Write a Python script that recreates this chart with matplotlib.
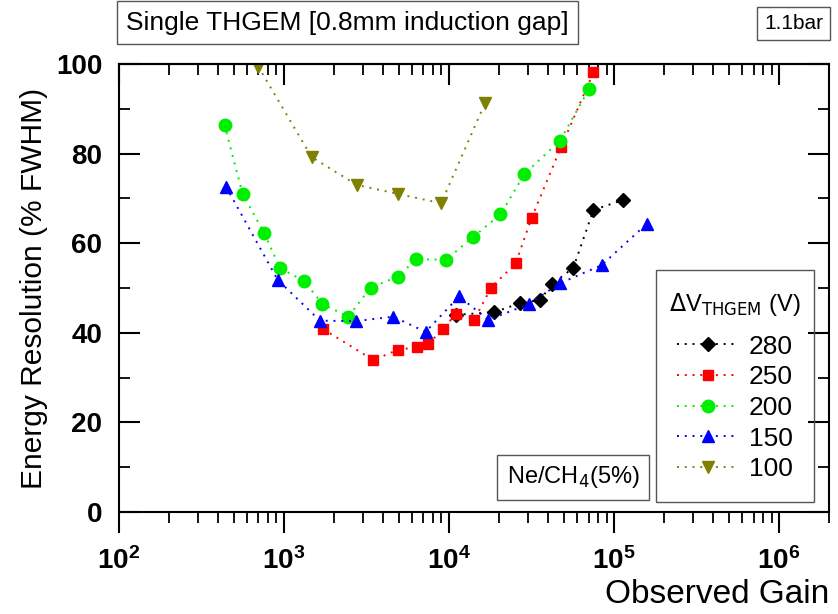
import matplotlib
matplotlib.use("Agg")
import matplotlib.pyplot as plt
from matplotlib.patches import Rectangle
from matplotlib.ticker import LogLocator, MultipleLocator, NullFormatter

# gain (x) and energy resolution in % FWHM (y)
gain_280 = [11000, 18800, 26900, 35600, 41900, 56600, 75000, 112700]
res_280 = [44.0, 44.6, 46.6, 47.3, 50.8, 54.5, 67.4, 69.6]

gain_250 = [1730, 3480, 4890, 6370, 7490, 9150, 11000, 14200, 18000, 25350,
            31600, 47800, 75000]
res_250 = [40.8, 33.9, 36.2, 36.8, 37.5, 40.8, 44.2, 42.9, 50.1, 55.5,
           65.6, 81.5, 98.1]

gain_200 = [436, 561, 757, 946, 1320, 1710, 2450, 3350, 4890, 6310, 9600,
            13900, 20500, 28600, 47100, 70500]
res_200 = [86.4, 71.0, 62.3, 54.4, 51.6, 46.4, 43.6, 50.1, 52.5, 56.4, 56.3,
           61.3, 66.4, 75.4, 82.9, 94.4]

gain_150 = [445, 916, 1650, 2730, 4590, 7210, 11500, 17300, 30500, 46700,
            84100, 157800]
res_150 = [72.6, 51.8, 42.7, 42.6, 43.6, 40.2, 48.1, 42.9, 46.4, 51.0,
           55.1, 64.3]

gain_100 = [698, 1470, 2760, 4890, 8950, 16500]
res_100 = [99.4, 79.2, 73.0, 71.0, 68.9, 91.2]

labels = ["280", "250", "200", "150", "100"]

series = [
    (gain_280, res_280, "black", "D", 7),
    (gain_250, res_250, "#ff0000", "s", 7.5),
    (gain_200, res_200, "#00ee00", "o", 9),
    (gain_150, res_150, "#0000ff", "^", 9),
    (gain_100, res_100, "#808000", "v", 9),
]

plt.rcParams["font.family"] = ["Liberation Sans", "DejaVu Sans"]

fig = plt.figure(figsize=(8.38, 6.14), dpi=100)
ax = fig.add_axes([0.142, 0.166, 0.847, 0.730])

for (x, y, c, m, ms), lab in zip(series, labels):
    ax.plot(x, y, color=c, ls=(0, (1, 3)), lw=1.4, marker=m, ms=ms,
            mec=c, mfc=c, label=lab)

ax.set_xscale("log")
ax.set_xlim(100, 2e6)
ax.set_ylim(0, 100)

ax.yaxis.set_major_locator(MultipleLocator(20))
ax.yaxis.set_minor_locator(MultipleLocator(10))
ax.xaxis.set_major_locator(LogLocator(base=10, numticks=10))
ax.xaxis.set_minor_locator(LogLocator(base=10, subs=range(2, 10), numticks=20))
ax.xaxis.set_minor_formatter(NullFormatter())

ax.tick_params(axis="x", which="major", direction="out", length=15, width=1.5,
               top=False, pad=10)
ax.tick_params(axis="x", which="minor", direction="out", length=8, width=1.3,
               top=False)
ax.tick_params(axis="y", which="major", direction="in", length=15, width=1.5,
               left=True, right=True, pad=12)
ax.tick_params(axis="y", which="minor", direction="in", length=8, width=1.3,
               left=True, right=True)
for t in ax.get_xticklabels() + ax.get_yticklabels():
    t.set_fontweight("bold")
    t.set_fontsize(20)

top = ax.secondary_xaxis("top")
top.set_xscale("log")
top.xaxis.set_major_locator(LogLocator(base=10, numticks=10))
top.xaxis.set_minor_locator(LogLocator(base=10, subs=range(2, 10), numticks=20))
top.tick_params(which="major", direction="in", length=15, width=1.5,
                labeltop=False)
top.tick_params(which="minor", direction="in", length=8, width=1.3)
top.xaxis.set_major_formatter(NullFormatter())
top.xaxis.set_minor_formatter(NullFormatter())

for s in list(ax.spines.values()) + list(top.spines.values()):
    s.set_linewidth(1.5)

ax.set_ylabel("Energy Resolution (% FWHM)", fontsize=21.5, labelpad=6)
ax.set_xlabel("Observed Gain", fontsize=24)
ax.xaxis.set_label_coords(1.0, -0.150)
ax.xaxis.label.set_horizontalalignment("right")

# legend: drawn without its own frame, box added below with narrower sides
leg_fs = 19
leg_pad = 0.8
shrink = leg_pad * leg_fs * fig.dpi / 72 - 13
leg = ax.legend(title=r"$\Delta$V$_{\mathrm{THGEM}}$ (V)", loc="lower right",
                bbox_to_anchor=(0.979 + shrink / 710, 0.022), borderaxespad=0,
                fontsize=leg_fs, title_fontsize=17, frameon=False,
                handlelength=2.3, handletextpad=0.4, labelspacing=0.25,
                borderpad=leg_pad, numpoints=1)
leg._legend_box.sep = 12

fig.canvas.draw()
bb = leg.get_window_extent().transformed(fig.transFigure.inverted())
dx = shrink / fig.bbox.width
fig.add_artist(Rectangle((bb.x0 + dx, bb.y0), bb.width - 2 * dx, bb.height,
                         transform=fig.transFigure, fill=False,
                         ec="#555555", lw=1.0))

box = dict(boxstyle="square,pad=0.35", fc="white", ec="#555555", lw=1.0)
fig.text(0.415, 0.963, "Single THGEM [0.8mm induction gap]", fontsize=19,
         ha="center", va="center", bbox=box)
fig.text(0.947, 0.962, "1.1bar", fontsize=15, ha="center", va="center",
         bbox=dict(boxstyle="square,pad=0.35", fc="white", ec="#555555", lw=1.0))
ax.text(0.640, 0.078, r"Ne/CH$_4$(5%)", transform=ax.transAxes, fontsize=17,
        ha="center", va="center", bbox=dict(boxstyle="square,pad=0.4",
                                            fc="white", ec="#555555", lw=1.0))

fig.savefig("out.png", dpi=100)
